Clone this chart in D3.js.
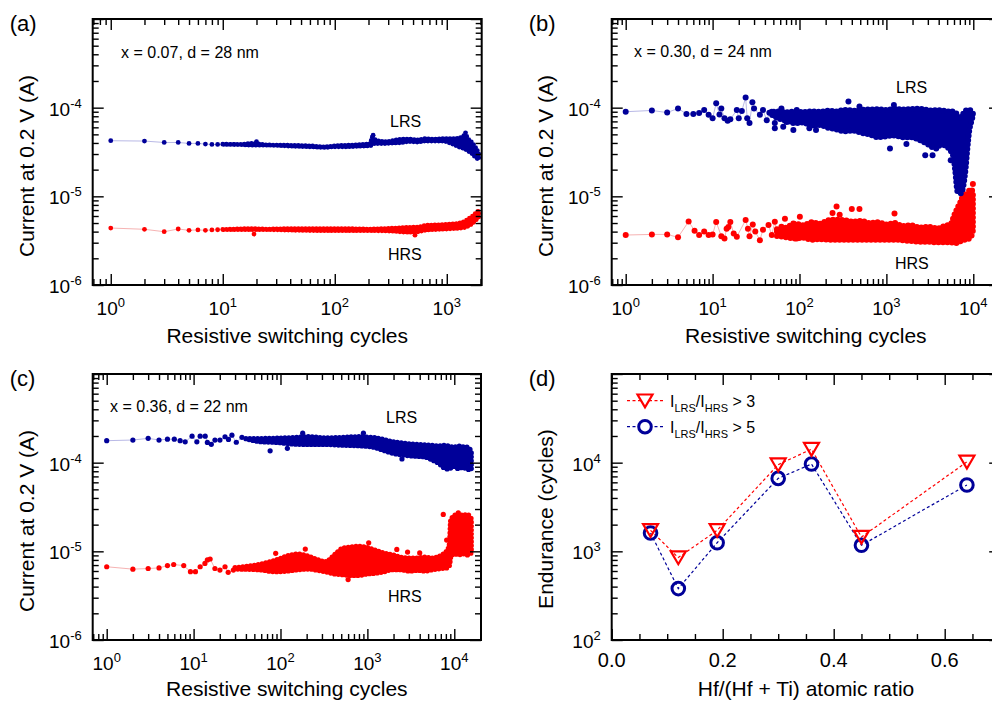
<!DOCTYPE html>
<html><head><meta charset="utf-8">
<script src="https://cdn.jsdelivr.net/npm/d3@7"></script>
<style>body{margin:0;background:#fff} svg{display:block} text{font-family:Arial,"Liberation Sans",sans-serif;fill:#000}</style>
</head><body><svg id="c" width="992" height="701"></svg>
<script>
// ---------------- DATA ----------------
// Panel (a): x = 0.07, d = 28 nm   points [cycle, current(A)], dense bands [cycle, low, high]
const aLrsPts = [[1,4.24e-5],[2,4.2e-5],[3,4.05e-5],[4,4.05e-5],[5,3.95e-5],[6,3.95e-5],[7,3.88e-5],[8,3.85e-5],[9,3.85e-5],[20,4.13e-5],[220,4.9e-5],[1470,5.2e-5]];
const aLrsBand = [[10,3.62e-5,4.12e-5],[14,3.6e-5,4.1e-5],[18,3.55e-5,4.2e-5],[25,3.55e-5,4.05e-5],[42,3.45e-5,4.0e-5],[60,3.4e-5,3.95e-5],[82,3.35e-5,3.85e-5],[100,3.4e-5,3.95e-5],[124,3.4e-5,4.0e-5],[160,3.45e-5,4.05e-5],[208,3.5e-5,4.2e-5],[215,3.6e-5,4.95e-5],[231,3.7e-5,4.6e-5],[280,3.7e-5,4.4e-5],[325,3.75e-5,4.5e-5],[400,3.8e-5,4.7e-5],[458,3.9e-5,4.7e-5],[550,3.85e-5,4.6e-5],[645,3.95e-5,4.75e-5],[780,3.95e-5,4.7e-5],[908,3.95e-5,4.75e-5],[1100,3.7e-5,4.75e-5],[1280,3.4e-5,4.8e-5],[1466,3.2e-5,5.2e-5],[1580,3.0e-5,4.6e-5],[1680,2.85e-5,4.3e-5],[1800,2.6e-5,3.8e-5],[1930,2.45e-5,3.25e-5]];
const aHrsPts = [[1,4.39e-6],[2,4.25e-6],[3,3.99e-6],[4,4.28e-6],[5,4.14e-6],[6,4.18e-6],[7,4.14e-6],[8,4.18e-6],[9,4.2e-6],[19,3.75e-6],[520,3.65e-6]];
const aHrsBand = [[10,3.95e-6,4.5e-6],[18,3.95e-6,4.6e-6],[25,3.95e-6,4.55e-6],[42,3.9e-6,4.6e-6],[82,3.85e-6,4.6e-6],[124,3.85e-6,4.6e-6],[208,3.85e-6,4.55e-6],[325,3.8e-6,4.65e-6],[458,3.7e-6,4.75e-6],[560,3.75e-6,4.8e-6],[645,3.9e-6,5.0e-6],[908,4.0e-6,5.1e-6],[1100,4.05e-6,5.2e-6],[1280,4.1e-6,5.3e-6],[1466,4.2e-6,5.6e-6],[1580,4.4e-6,6.0e-6],[1680,4.6e-6,6.3e-6],[1800,5.0e-6,6.8e-6],[1930,5.5e-6,7.3e-6]];

// Panel (b): x = 0.30, d = 24 nm
const bLrsPts = [[1,9.0e-5],[2,9.3e-5],[3,8.8e-5],[4,9.8e-5],[5,8.5e-5],[6,8.5e-5],[7,8.7e-5],[8,9.4e-5],[9,8.3e-5],[10,7.6e-5],[11,1.12e-4],[12,8.4e-5],[12.6,9.8e-5],[13.7,7.6e-5],[14.9,7.1e-5],[16,7.4e-5],[19,9.4e-5],[20,7.6e-5],[21.7,9.2e-5],[24,1.3e-4],[25,7.6e-5],[26.6,6.7e-5],[28.7,1.15e-4],[30,9.8e-5],
  [35,8.3e-5],[38,9.4e-5],[42,7.2e-5],[48,9.0e-5],[52,6.7e-5],[57,7.8e-5],[62,9.8e-5],[71,6.9e-5],[81,8.6e-5],[93,9.4e-5],
  [52,5.85e-5],[65,6.1e-5],[85,5.6e-5],[130,5.85e-5],[155,5.6e-5],[366,1.17e-4],[490,1.03e-4],[1100,3.47e-5],[1220,1.07e-4],[1700,3.9e-5],[2800,2.9e-5],[3400,2.9e-5],[5500,2.55e-5]];
const bLrsBand = [[45,8.0e-5,9.5e-5],[57,7.0e-5,9.8e-5],[70,6.6e-5,9.6e-5],[89,6.2e-5,9.8e-5],[110,6.3e-5,9.6e-5],[138,5.8e-5,9.8e-5],[170,5.9e-5,9.7e-5],[214,5.5e-5,1.0e-4],[260,5.3e-5,9.8e-5],[331,5.0e-5,1.02e-4],[420,5.1e-5,1.0e-4],[515,4.8e-5,1.02e-4],[650,4.6e-5,1.03e-4],[800,4.3e-5,1.04e-4],[1000,4.4e-5,1.02e-4],[1240,4.5e-5,1.05e-4],[1550,4.3e-5,1.03e-4],[1925,4.3e-5,1.04e-4],[2400,4.0e-5,1.05e-4],[2985,3.6e-5,1.02e-4],[3400,3.3e-5,1.0e-4],[3860,3.2e-5,1.02e-4],[4300,3.8e-5,1.0e-4],[4635,3.5e-5,1.0e-4],[5100,3.3e-5,9.8e-5],[5530,3.0e-5,1.0e-4],[5900,2.6e-5,9.6e-5],[6200,1.8e-5,9.5e-5],[6590,1.05e-5,9.0e-5],[7190,1.0e-5,8.0e-5],[7600,1.15e-5,9.0e-5],[7860,1.4e-5,9.8e-5],[8200,2.0e-5,1.0e-4],[8500,3.0e-5,1.02e-4],[8960,5.0e-5,1.02e-4],[9500,6.5e-5,9.9e-5],[9900,7.5e-5,9.5e-5]];
const bHrsPts = [[1,3.66e-6],[2,3.72e-6],[3,3.72e-6],[4,3.45e-6],[5.3,5.2e-6],[6.2,4.1e-6],[7,3.66e-6],[8,4.0e-6],[9,3.66e-6],[10,3.7e-6],[11,5.15e-6],[12.6,3.55e-6],[13.7,3.35e-6],[14.5,4.3e-6],[15.2,4.5e-6],[16,5.15e-6],[17.5,3.8e-6],[19,3.5e-6],[24,5.4e-6],[25.5,4.3e-6],[26.6,3.55e-6],[29,4.8e-6],[31,4.0e-6],
  [35,3.2e-6],[38,4.2e-6],[44,4.75e-6],[48,3.66e-6],[52,5.17e-6],[57,4.0e-6],[62,4.55e-6],[68,5.6e-6],[74,3.85e-6],[85,4.95e-6],[93,3.35e-6],[101,5.9e-6],
  [267,7.7e-6],[290,6.2e-6],[400,7.2e-6],[490,7.2e-6],[240,6.5e-6],[1240,6.4e-6],[7190,1.2e-5],[9900,1.38e-5]];
const bHrsBand = [[55,3.3e-6,4.6e-6],[70,3.2e-6,4.8e-6],[89,3.1e-6,5.3e-6],[110,3.15e-6,5.1e-6],[138,3.0e-6,5.5e-6],[170,3.05e-6,5.3e-6],[214,3.0e-6,5.8e-6],[260,3.0e-6,5.9e-6],[331,3.0e-6,5.8e-6],[420,3.0e-6,5.6e-6],[515,3.0e-6,5.7e-6],[650,3.0e-6,5.4e-6],[800,3.0e-6,5.5e-6],[1000,3.0e-6,5.2e-6],[1240,3.0e-6,5.4e-6],[1550,2.95e-6,5.0e-6],[1925,2.9e-6,5.1e-6],[2400,2.85e-6,4.8e-6],[2985,2.85e-6,4.9e-6],[3860,2.8e-6,4.7e-6],[4635,2.8e-6,5.0e-6],[5530,2.8e-6,5.3e-6],[6000,2.75e-6,6.5e-6],[6590,2.75e-6,8.0e-6],[7190,2.9e-6,9.5e-6],[7860,3.0e-6,1.15e-5],[8500,3.0e-6,1.1e-5],[8960,3.1e-6,1.25e-5],[9500,3.3e-6,1.3e-5],[9900,3.8e-6,1.15e-5]];

// Panel (c): x = 0.36, d = 22 nm
const cLrsPts = [[1,1.77e-4],[2,1.80e-4],[3,1.88e-4],[4,1.80e-4],[5,1.84e-4],[6,1.84e-4],[7,1.77e-4],[8,1.72e-4],[9.6,1.99e-4],[10.9,1.72e-4],[11.9,1.99e-4],[13.6,1.99e-4],[14.4,1.69e-4],[16,1.61e-4],[17.6,1.8e-4],[20.1,1.8e-4],[23,1.96e-4],[25.2,1.83e-4],[27.6,2.04e-4],[31,1.7e-4],[36,1.93e-4],[76,1.36e-4],
  [120,1.45e-4],[180,2.15e-4],[900,2.15e-4],[2500,1.1e-4]];
const cLrsBand = [[40,1.78e-4,1.95e-4],[56,1.62e-4,2.0e-4],[90,1.58e-4,2.02e-4],[136,1.52e-4,2.05e-4],[210,1.5e-4,2.1e-4],[328,1.5e-4,2.04e-4],[510,1.47e-4,2.06e-4],[794,1.45e-4,2.1e-4],[1000,1.43e-4,2.08e-4],[1240,1.38e-4,2.04e-4],[1550,1.28e-4,1.95e-4],[1920,1.2e-4,1.85e-4],[2400,1.15e-4,1.8e-4],[3000,1.12e-4,1.75e-4],[3800,1.1e-4,1.72e-4],[4645,1.08e-4,1.7e-4],[5600,1.0e-4,1.68e-4],[6600,9.2e-5,1.65e-4],[7600,8.2e-5,1.68e-4],[8600,7.9e-5,1.65e-4],[9800,8.5e-5,1.6e-4],[11200,8.0e-5,1.65e-4],[12500,8.3e-5,1.62e-4],[14000,7.9e-5,1.6e-4],[15700,7.8e-5,1.45e-4]];
const cHrsPts = [[1,6.7e-6],[2,6.3e-6],[3,6.4e-6],[4,6.5e-6],[5,6.9e-6],[5.9,7.1e-6],[7.7,6.9e-6],[9.2,5.9e-6],[10.5,5.9e-6],[11.9,6.7e-6],[13.5,7.3e-6],[14.4,8.0e-6],[15.5,8.2e-6],[17.6,6.4e-6],[20.1,6.15e-6],[23,6.7e-6],[25,5.8e-6],[28.7,6.15e-6],[8170,1.34e-5],[7470,2.61e-5],
  [88,9.5e-6],[193,1.06e-5],[600,4.8e-6],[1035,1.25e-5],[2180,1.05e-5],[2900,9.8e-6],[4000,9.6e-6]];
const cHrsBand = [[30,5.9e-6,7.0e-6],[56,5.8e-6,7.6e-6],[88,5.5e-6,8.5e-6],[120,5.6e-6,9.5e-6],[160,5.8e-6,1.0e-5],[210,5.9e-6,9.4e-6],[270,5.7e-6,8.6e-6],[328,5.5e-6,8.2e-6],[420,5.2e-6,9.8e-6],[510,5.1e-6,1.15e-5],[650,5.0e-6,1.2e-5],[794,5.0e-6,1.22e-5],[1000,5.2e-6,1.18e-5],[1240,5.3e-6,1.1e-5],[1550,5.5e-6,1.02e-5],[1920,5.8e-6,9.8e-6],[2400,5.8e-6,9.2e-6],[3000,5.6e-6,9.0e-6],[3800,5.7e-6,9.0e-6],[4645,5.6e-6,9.2e-6],[5600,5.8e-6,9.0e-6],[7220,6.0e-6,9.8e-6],[8300,6.1e-6,1.1e-5],[8800,6.5e-6,1.3e-5],[9100,8.0e-6,2.4e-5],[10000,8.8e-6,2.7e-5],[11200,8.5e-6,2.9e-5],[12500,8.8e-6,2.7e-5],[14000,8.5e-6,2.8e-5],[15700,9.0e-6,2.5e-5]];

// Panel (d): endurance vs Hf/(Hf+Ti) ratio
const dRatio = [0.07, 0.12, 0.19, 0.30, 0.36, 0.45, 0.64];
const dEnd3  = [1725, 850, 1725, 9500, 14200, 1450, 10200];   // I_LRS/I_HRS > 3
const dEnd5  = [1610, 380, 1250, 6650, 9650, 1170, 5600];     // I_LRS/I_HRS > 5

const logXTickLabels = ['0','1','2','3','4'];
const logYTickLabels = ['-6','-5','-4'];
const dYTickLabels = ['2','3','4'];
const dXTickLabels = ['0.0','0.2','0.4','0.6'];

// ---------------- DRAWING ----------------
const svg = d3.select('#c');
const BLUE = '#000099', RED = '#ff0000';
const MAJ = 11, MIN = 6;

function logTickVals(dom){
  const maj=[], min=[];
  for(let e=Math.floor(Math.log10(dom[0])); e<=Math.ceil(Math.log10(dom[1])); e++){
    for(let k=1;k<10;k++){
      const v=k*Math.pow(10,e);
      if(v>=dom[0]*0.999 && v<=dom[1]*1.001) (k===1?maj:min).push(v);
    }
  }
  return {maj,min};
}

function ticks(g, x, y, xt, yt){
  const [x0,x1]=x.range(), [y0,y1]=y.range();
  const mk = (axisFn, scale, vals, len, tx, ty) => {
    const a = axisFn(scale).tickValues(vals).tickSizeInner(-len).tickSizeOuter(0).tickFormat('');
    const gg = g.append('g').attr('transform',`translate(${tx},${ty})`).call(a);
    gg.select('.domain').remove();
    gg.selectAll('line').attr('stroke','#000').attr('stroke-width',1.4);
  };
  mk(d3.axisBottom, x, xt.maj, MAJ, 0, y0);
  mk(d3.axisBottom, x, xt.min, MIN, 0, y0);
  mk(d3.axisTop, x, xt.maj, MAJ, 0, y1);
  mk(d3.axisTop, x, xt.min, MIN, 0, y1);
  mk(d3.axisLeft, y, yt.maj, MAJ, x0, 0);
  mk(d3.axisLeft, y, yt.min, MIN, x0, 0);
  mk(d3.axisRight, y, yt.maj, MAJ, x1, 0);
  mk(d3.axisRight, y, yt.min, MIN, x1, 0);
  g.append('rect').attr('x',x0).attr('y',y1).attr('width',x1-x0).attr('height',y0-y1)
    .attr('fill','none').attr('stroke','#000').attr('stroke-width',2);
}

function powLabel(sel, base, sup, fs){
  sel.append('tspan').attr('font-size',fs).text(base);
  sel.append('tspan').attr('font-size',Math.round(fs*0.68)).attr('dy',-8).text(sup);
}

function scatterPanel(cfg){
  const g = svg.append('g');
  const x = d3.scaleLog().domain(cfg.xDom).range([cfg.left, cfg.right]);
  const y = d3.scaleLog().domain([1e-6,1e-3]).range([cfg.bottom, cfg.top]);
  const r = cfg.r;
  const series = [
    {pts:cfg.hrsPts, band:cfg.hrsBand, col:RED, lc:'#f6b3b3'},
    {pts:cfg.lrsPts, band:cfg.lrsBand, col:BLUE, lc:'#b9b9e6'}
  ];
  series.forEach(s=>{
    const early = s.pts.filter(p=>p[0] < s.band[0][0]).sort((a,b)=>a[0]-b[0]);
    const path = early.concat(s.band.map(b=>[b[0], Math.sqrt(b[1]*b[2])]));
    g.append('path').datum(path)
      .attr('d', d3.line().x(d=>x(d[0])).y(d=>y(d[1])))
      .attr('fill','none').attr('stroke',s.lc).attr('stroke-width',1);
  });
  series.forEach(s=>{
    const inner = s.band.map(d=>{
      let yl = y(d[1]) - r, yh = y(d[2]) + r;
      if (yl < yh) { const m = (y(d[1]) + y(d[2])) / 2; yl = yh = m; }
      return {px:x(d[0]), yl, yh};
    });
    g.append('path').datum(inner)
      .attr('d', d3.area().x(d=>d.px).y0(d=>d.yl).y1(d=>d.yh).curve(d3.curveMonotoneX))
      .attr('fill',s.col).attr('stroke',s.col).attr('stroke-width',2*r)
      .attr('stroke-linecap','round').attr('stroke-linejoin','round')
      .attr('stroke-dasharray',`0,${(r*1.5).toFixed(2)}`);
    g.selectAll(null).data(s.pts).enter().append('circle')
      .attr('cx',d=>x(d[0])).attr('cy',d=>y(d[1])).attr('r',r).attr('fill',s.col);
  });
  const xt = logTickVals(cfg.xDom), yt = logTickVals([1e-6,1e-3]);
  ticks(g, x, y, xt, yt);
  xt.maj.forEach((v,i)=>{
    const t = g.append('text').attr('x',x(v)).attr('y',cfg.bottom+30).attr('text-anchor','middle');
    powLabel(t,'10',logXTickLabels[i],19);
  });
  yt.maj.slice(0,3).forEach((v,i)=>{
    const t = g.append('text').attr('x',cfg.left-11).attr('y',y(v)+8).attr('text-anchor','end');
    powLabel(t,'10',logYTickLabels[i],19);
  });
  g.append('text').attr('x',(cfg.left+Math.min(cfg.right,cfg.left+389))/2).attr('y',cfg.xTitleY)
    .attr('text-anchor','middle').attr('font-size',21).text('Resistive switching cycles');
  g.append('text').attr('transform',`translate(${cfg.left-59},${(cfg.top+cfg.bottom)/2+14}) rotate(-90)`)
    .attr('text-anchor','middle').attr('font-size',21).text('Current at 0.2 V (A)');
  g.append('text').attr('x',cfg.left-83).attr('y',cfg.top+12).attr('font-size',22).text(cfg.label);
  g.append('text').attr('x',cfg.ann[0]).attr('y',cfg.ann[1]).attr('font-size',16).text(cfg.annText);
  g.append('text').attr('x',cfg.lrsPos[0]).attr('y',cfg.lrsPos[1]).attr('font-size',16).text('LRS');
  g.append('text').attr('x',cfg.hrsPos[0]).attr('y',cfg.hrsPos[1]).attr('font-size',16).text('HRS');
}

scatterPanel({label:'(a)', left:92.7, right:481.7, top:19, bottom:285, xDom:[0.69,2050], r:2.4, xTitleY:343,
  lrsPts:aLrsPts, lrsBand:aLrsBand, hrsPts:aHrsPts, hrsBand:aHrsBand,
  ann:[121,58], annText:'x = 0.07, d = 28 nm', lrsPos:[390,127], hrsPos:[388,260]});
scatterPanel({label:'(b)', left:611.7, right:1000, top:19, bottom:285, xDom:[0.69,20300], r:3, xTitleY:343,
  lrsPts:bLrsPts, lrsBand:bLrsBand, hrsPts:bHrsPts, hrsBand:bHrsBand,
  ann:[634,57], annText:'x = 0.30, d = 24 nm', lrsPos:[896,93], hrsPos:[895,269]});
scatterPanel({label:'(c)', left:92.7, right:481, top:374, bottom:640, xDom:[0.69,20300], r:2.6, xTitleY:696,
  lrsPts:cLrsPts, lrsBand:cLrsBand, hrsPts:cHrsPts, hrsBand:cHrsBand,
  ann:[110,412], annText:'x = 0.36, d = 22 nm', lrsPos:[386,423], hrsPos:[388,602]});

// Panel (d)
(function(){
  const left=611.7, right=1000.2, top=374, bottom=640;
  const g = svg.append('g');
  const x = d3.scaleLinear().domain([0,0.7]).range([left,right]);
  const y = d3.scaleLog().domain([100,1e5]).range([bottom,top]);
  const maj = [0,0.2,0.4,0.6];
  const min = d3.range(1,15).map(i=>i*0.05).filter(v=>Math.abs(v/0.2-Math.round(v/0.2))>1e-6);
  const yt = logTickVals([100,1e5]);
  const pts3 = dRatio.map((r,i)=>[r,dEnd3[i]]), pts5 = dRatio.map((r,i)=>[r,dEnd5[i]]);
  const line = d3.line().x(d=>x(d[0])).y(d=>y(d[1]));
  g.append('path').datum(pts3).attr('d',line).attr('fill','none').attr('stroke',RED).attr('stroke-width',1.2).attr('stroke-dasharray','3,2.5');
  g.append('path').datum(pts5).attr('d',line).attr('fill','none').attr('stroke',BLUE).attr('stroke-width',1.2).attr('stroke-dasharray','3,2.5');
  const tri = 'M-7.5,-6.2L7.5,-6.2L0,6.6Z';
  g.selectAll(null).data(pts5).enter().append('circle').attr('cx',d=>x(d[0])).attr('cy',d=>y(d[1])).attr('r',6.3)
    .attr('fill','none').attr('stroke',BLUE).attr('stroke-width',3);
  g.selectAll(null).data(pts3).enter().append('path').attr('d',tri)
    .attr('transform',d=>`translate(${x(d[0])},${y(d[1])})`).attr('fill','none').attr('stroke',RED).attr('stroke-width',2.2);
  ticks(g, x, y, {maj, min}, yt);
  maj.forEach((v,i)=>g.append('text').attr('x',x(v)).attr('y',bottom+27).attr('text-anchor','middle').attr('font-size',20).text(dXTickLabels[i]));
  yt.maj.slice(0,3).forEach((v,i)=>{
    const t = g.append('text').attr('x',left-11).attr('y',y(v)+8).attr('text-anchor','end');
    powLabel(t,'10',dYTickLabels[i],19);
  });
  g.append('text').attr('x',806).attr('y',696).attr('text-anchor','middle').attr('font-size',21).text('Hf/(Hf + Ti) atomic ratio');
  g.append('text').attr('transform',`translate(${left-59},${(top+bottom)/2+12}) rotate(-90)`)
    .attr('text-anchor','middle').attr('font-size',21).text('Endurance (cycles)');
  g.append('text').attr('x',left-83).attr('y',top+12).attr('font-size',22).text('(d)');
  const leg = [{col:RED, y:400.7, sym:'tri', lab:'3'},{col:BLUE, y:426.7, sym:'circ', lab:'5'}];
  leg.forEach(l=>{
    g.append('line').attr('x1',627).attr('x2',663).attr('y1',l.y).attr('y2',l.y).attr('stroke',l.col).attr('stroke-width',1.2).attr('stroke-dasharray','3,2.5');
    if(l.sym==='tri') g.append('path').attr('d',tri).attr('transform',`translate(645,${l.y})`).attr('fill','#fff').attr('stroke',l.col).attr('stroke-width',2.2);
    else g.append('circle').attr('cx',645).attr('cy',l.y).attr('r',6.3).attr('fill','#fff').attr('stroke',l.col).attr('stroke-width',3);
    const t = g.append('text').attr('x',670).attr('y',l.y+6).attr('font-size',16);
    t.append('tspan').text('I');
    t.append('tspan').attr('font-size',11).attr('dy',5).text('LRS');
    t.append('tspan').attr('dy',-5).text('/I');
    t.append('tspan').attr('font-size',11).attr('dy',5).text('HRS');
    t.append('tspan').attr('dy',-5).text(' > '+l.lab);
  });
})();
</script></body></html>
